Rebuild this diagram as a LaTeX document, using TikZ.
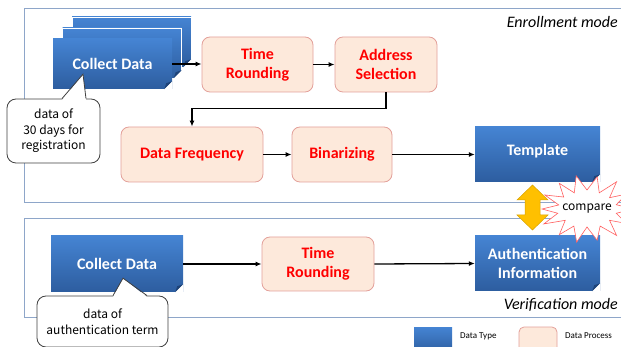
\documentclass[tikz,border=0pt]{standalone}
\usepackage{fontspec}
\setmainfont{Carlito}
\newfontfamily\jpfont{Noto Sans CJK JP}
\usetikzlibrary{arrows.meta,calc}
\definecolor{dtTop}{HTML}{4584D3}
\definecolor{dtBot}{HTML}{2D5D9F}
\definecolor{dtFold}{HTML}{1E4378}
\definecolor{dpFill}{HTML}{FDE9DB}
\definecolor{dpLine}{HTML}{E3A09A}
\definecolor{dpText}{HTML}{FF0000}
\definecolor{frameLine}{HTML}{8EA6C9}
\definecolor{goldA}{HTML}{FFC000}
\definecolor{starRed}{HTML}{FF5F5F}
\newcommand\dtfold[1]{%
  \fill[white] ([xshift=-8pt]#1.south east) -- (#1.south east) -- ([yshift=8pt]#1.south east) -- cycle;
  \fill[dtFold] ([xshift=-8pt]#1.south east) -- ([yshift=8pt]#1.south east) -- ([xshift=-6pt,yshift=6pt]#1.south east) -- cycle;}
\begin{document}
\begin{tikzpicture}[x=1pt,y=-1pt,
  datatype/.style={rectangle, inner sep=2pt, top color=dtTop, bottom color=dtBot, text=white,
    font=\bfseries\fontsize{16}{19}\selectfont, align=center},
  process/.style={rectangle, rounded corners=8pt, draw=dpLine, line width=0.8pt, fill=dpFill,
    text=dpText, font=\bfseries\fontsize{16}{19}\selectfont, align=center, inner sep=2pt},
  callout/.style={rectangle, rounded corners=9pt, draw=black!75, line width=0.8pt, fill=white,
    font=\jpfont\fontsize{12}{15.5}\selectfont, align=center, inner sep=1pt},
  arr/.style={-{Latex[length=6pt,width=5pt]}, line width=1.3pt},
  frame/.style={draw=frameLine, line width=0.8pt},
  modelabel/.style={font=\itshape\fontsize{16}{19}\selectfont, anchor=east, inner sep=0pt},
  legendtext/.style={font=\fontsize{9}{11}\selectfont, anchor=west, inner sep=0pt}]
\useasboundingbox (0,0) rectangle (621,347);
% frames
\draw[frame] (24,8) rectangle (640,202);
\draw[frame] (24,218) rectangle (640,317);
\node[modelabel] (enr) at (618,22) {Enrollment mode};
\node[modelabel] (ver) at (618,305) {Verification mode};
% enrollment
\node[datatype, draw=white, line width=0.4pt, minimum width=119pt, minimum height=50pt] (cdc) at (131.5,42) {};
\dtfold{cdc}
\node[datatype, draw=white, line width=0.4pt, minimum width=119pt, minimum height=50pt] (cdb) at (122,53) {};
\dtfold{cdb}
\node[datatype, minimum width=119pt, minimum height=50pt] (cd1) at (112.5,64) {Collect Data};
\dtfold{cd1}
\node[process, minimum width=111pt, minimum height=55pt] (tr1) at (257.5,64.5) {Time\\Rounding};
\node[process, minimum width=102pt, minimum height=55pt] (as) at (386,64.5) {Address\\Selection};
\node[process, minimum width=142pt, minimum height=55pt] (df) at (192,154.5) {Data Frequency};
\node[process, minimum width=100pt, minimum height=55pt] (bin) at (342,154.5) {Binarizing};
\node[datatype, minimum width=125pt, minimum height=55pt, text depth=9pt] (tpl) at (537.5,154.5) {Template};
\dtfold{tpl}
\draw[arr] (cd1.east) -- (cd1.east -| tr1.west);
\draw[arr] (tr1.east) -- (as.west);
\draw[arr] (as.south) -- ++(0,16) -| (df.north);
\draw[arr] (df.east) -- (bin.west);
\draw[arr] (bin.east) -- (tpl.west);
% callout 1
\node[callout, minimum width=93pt, minimum height=64pt] (co1) at (53.5,131) {data of\\30 days for\\registration};
\coordinate (tip1) at ($(cd1.south)+(-29.5,-15)$);
\coordinate (b1a) at ($(co1.north)+(8.5,0)$);
\coordinate (b1b) at ($(co1.north)+(32.5,0)$);
\fill[white] ($(b1a)+(0,1.5)$) -- (tip1) -- ($(b1b)+(0,1.5)$) -- cycle;
\draw[draw=black!75, line width=0.8pt] (b1a) -- (tip1) -- (b1b);
% verification
\node[datatype, minimum width=132pt, minimum height=56pt] (cd2) at (117,264) {Collect Data};
\dtfold{cd2}
\node[process, minimum width=112pt, minimum height=54pt] (tr2) at (318,264) {Time\\Rounding};
\node[datatype, minimum width=125pt, minimum height=55pt] (auth) at (537.5,263.5) {Authentication\\Information};
\dtfold{auth}
\draw[arr] (cd2.east) -- (cd2.east -| tr2.west);
\draw[arr] (tr2.east) -- (auth.west);
% callout 2
\node[callout, minimum width=131pt, minimum height=51pt] (co2) at (102.5,321.5) {data of\\authentication term};
\coordinate (tip2) at ($(cd2.south)+(6,-14)$);
\coordinate (b2a) at ($(co2.north)+(10.5,0)$);
\coordinate (b2b) at ($(co2.north)+(44.5,0)$);
\fill[white] ($(b2a)+(0,1.5)$) -- (tip2) -- ($(b2b)+(0,1.5)$) -- cycle;
\draw[draw=black!75, line width=0.8pt] (b2a) -- (tip2) -- (b2b);
% compare
\filldraw[fill=goldA, draw=goldA!85!black, line width=0.5pt]
  (532.5,185) -- (548,200) -- (540,200) -- (540,215) -- (548,215) -- (532.5,230)
  -- (517,215) -- (525,215) -- (525,200) -- (517,200) -- cycle;
\coordinate (cmpc) at (587,209);
\filldraw[draw=starRed, fill=white, line width=0.6pt] ($(cmpc)+(0:47pt and 33pt)$)
  \foreach \a/\rx/\ry in {13/30/19, 26/44/34, 39/29/18, 51/47/35, 64/28/18, 77/45/33,
    90/30/19, 103/48/34, 116/29/18, 129/44/33, 141/30/19, 154/47/32, 167/29/18,
    180/45/33, 193/30/19, 206/48/34, 219/28/18, 231/44/33, 244/30/19, 257/46/34,
    270/29/18, 283/45/32, 296/30/19, 309/47/34, 321/29/18, 334/44/33, 347/30/19}
  { -- ($(cmpc)+(\a:\rx pt and \ry pt)$) } -- cycle;
\node[inner sep=0pt, font=\jpfont\fontsize{12}{14}\selectfont] (cmp) at (cmpc) {compare};
% legend
\node[datatype, minimum width=38pt, minimum height=26pt] (lgdt) at (433,340) {};
\node[legendtext] (lgdtt) at (460,336) {Data Type};
\node[rectangle, rounded corners=5pt, draw=dpLine, line width=0.8pt, fill=dpFill,
  minimum width=38pt, minimum height=26pt] (lgdp) at (538,340) {};
\node[legendtext] (lgdpt) at (565,336) {Data Process};
\end{tikzpicture}
\end{document}
